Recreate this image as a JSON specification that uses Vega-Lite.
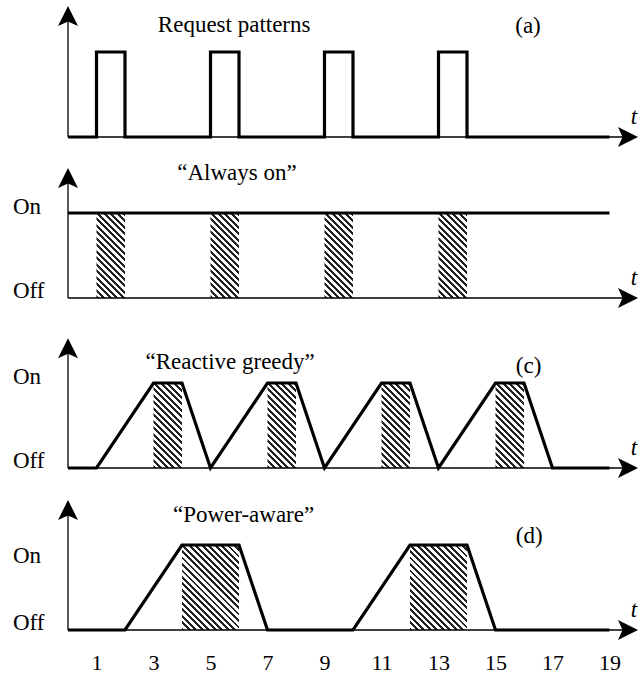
{
 "$schema": "https://vega.github.io/schema/vega-lite/v6.json",
 "padding": {"left": 12, "top": 6, "right": 2, "bottom": 2},
 "background": "white",
 "bounds": "flush",
 "spacing": 31,
 "config": {
  "view": {"stroke": null},
  "text": {"font": "Liberation Serif", "fontSize": 23, "color": "black"},
  "axis": {"labelFont": "Liberation Serif"}
 },
 "datasets": {
  "lines": [
   {"panel": "a", "i": 0, "x": 0, "y": 0}, {"panel": "a", "i": 1, "x": 1, "y": 0}, {"panel": "a", "i": 2, "x": 1, "y": 1}, {"panel": "a", "i": 3, "x": 2, "y": 1}, {"panel": "a", "i": 4, "x": 2, "y": 0},
   {"panel": "a", "i": 5, "x": 5, "y": 0}, {"panel": "a", "i": 6, "x": 5, "y": 1}, {"panel": "a", "i": 7, "x": 6, "y": 1}, {"panel": "a", "i": 8, "x": 6, "y": 0},
   {"panel": "a", "i": 9, "x": 9, "y": 0}, {"panel": "a", "i": 10, "x": 9, "y": 1}, {"panel": "a", "i": 11, "x": 10, "y": 1}, {"panel": "a", "i": 12, "x": 10, "y": 0},
   {"panel": "a", "i": 13, "x": 13, "y": 0}, {"panel": "a", "i": 14, "x": 13, "y": 1}, {"panel": "a", "i": 15, "x": 14, "y": 1}, {"panel": "a", "i": 16, "x": 14, "y": 0},
   {"panel": "a", "i": 17, "x": 19, "y": 0},
   {"panel": "b", "i": 0, "x": 0, "y": 1}, {"panel": "b", "i": 1, "x": 19, "y": 1},
   {"panel": "c", "i": 0, "x": 0, "y": 0}, {"panel": "c", "i": 1, "x": 1, "y": 0}, {"panel": "c", "i": 2, "x": 3, "y": 1}, {"panel": "c", "i": 3, "x": 4, "y": 1}, {"panel": "c", "i": 4, "x": 5, "y": 0},
   {"panel": "c", "i": 5, "x": 7, "y": 1}, {"panel": "c", "i": 6, "x": 8, "y": 1}, {"panel": "c", "i": 7, "x": 9, "y": 0},
   {"panel": "c", "i": 8, "x": 11, "y": 1}, {"panel": "c", "i": 9, "x": 12, "y": 1}, {"panel": "c", "i": 10, "x": 13, "y": 0},
   {"panel": "c", "i": 11, "x": 15, "y": 1}, {"panel": "c", "i": 12, "x": 16, "y": 1}, {"panel": "c", "i": 13, "x": 17, "y": 0}, {"panel": "c", "i": 14, "x": 19, "y": 0},
   {"panel": "d", "i": 0, "x": 0, "y": 0}, {"panel": "d", "i": 1, "x": 2, "y": 0}, {"panel": "d", "i": 2, "x": 4, "y": 1}, {"panel": "d", "i": 3, "x": 6, "y": 1}, {"panel": "d", "i": 4, "x": 7, "y": 0},
   {"panel": "d", "i": 5, "x": 10, "y": 0}, {"panel": "d", "i": 6, "x": 12, "y": 1}, {"panel": "d", "i": 7, "x": 14, "y": 1}, {"panel": "d", "i": 8, "x": 15, "y": 0}, {"panel": "d", "i": 9, "x": 19, "y": 0}
  ],
  "hatch": [
   {"panel": "b", "x": 1, "x2": 2, "y": 0, "y2": 1}, {"panel": "b", "x": 5, "x2": 6, "y": 0, "y2": 1}, {"panel": "b", "x": 9, "x2": 10, "y": 0, "y2": 1}, {"panel": "b", "x": 13, "x2": 14, "y": 0, "y2": 1},
   {"panel": "c", "x": 3, "x2": 4, "y": 0, "y2": 1}, {"panel": "c", "x": 7, "x2": 8, "y": 0, "y2": 1}, {"panel": "c", "x": 11, "x2": 12, "y": 0, "y2": 1}, {"panel": "c", "x": 15, "x2": 16, "y": 0, "y2": 1},
   {"panel": "d", "x": 4, "x2": 6, "y": 0, "y2": 1}, {"panel": "d", "x": 12, "x2": 14, "y": 0, "y2": 1}
  ],
  "axes": [
   {"panel": "a", "x": 0, "y": 0, "x2": 0, "y2": 1.5}, {"panel": "a", "x": 0, "y": 0, "x2": 19.6, "y2": 0},
   {"panel": "b", "x": 0, "y": 0, "x2": 0, "y2": 1.49}, {"panel": "b", "x": 0, "y": 0, "x2": 19.6, "y2": 0},
   {"panel": "c", "x": 0, "y": 0, "x2": 0, "y2": 1.49}, {"panel": "c", "x": 0, "y": 0, "x2": 19.6, "y2": 0},
   {"panel": "d", "x": 0, "y": 0, "x2": 0, "y2": 1.49}, {"panel": "d", "x": 0, "y": 0, "x2": 19.6, "y2": 0}
  ],
  "arrows": [
   {"panel": "a", "dir": "up", "x": 0, "y": 1.5412}, {"panel": "a", "dir": "right", "x": 20, "y": 0},
   {"panel": "b", "dir": "up", "x": 0, "y": 1.529}, {"panel": "b", "dir": "right", "x": 20, "y": 0},
   {"panel": "c", "dir": "up", "x": 0, "y": 1.526}, {"panel": "c", "dir": "right", "x": 20, "y": 0},
   {"panel": "d", "dir": "up", "x": 0, "y": 1.529}, {"panel": "d", "dir": "right", "x": 20, "y": 0}
  ],
  "texts": [
   {"panel": "a", "kind": "title", "x": 5.83, "y": 1.239, "text": "Request patterns"},
   {"panel": "a", "kind": "title", "x": 16.14, "y": 1.224, "text": "(a)"},
   {"panel": "a", "kind": "t", "x": 19.86, "y": 0.155, "text": "t"},
   {"panel": "b", "kind": "title", "x": 5.93, "y": 1.394, "text": "“Always on”"},
   {"panel": "b", "kind": "label", "x": -1.93, "y": 0.99, "text": "On"},
   {"panel": "b", "kind": "label", "x": -1.93, "y": 0, "text": "Off"},
   {"panel": "b", "kind": "t", "x": 19.86, "y": 0.155, "text": "t"},
   {"panel": "c", "kind": "title", "x": 5.69, "y": 1.161, "text": "“Reactive greedy”"},
   {"panel": "c", "kind": "title", "x": 16.16, "y": 1.118, "text": "(c)"},
   {"panel": "c", "kind": "label", "x": -1.93, "y": 0.99, "text": "On"},
   {"panel": "c", "kind": "label", "x": -1.93, "y": 0, "text": "Off"},
   {"panel": "c", "kind": "t", "x": 19.86, "y": 0.155, "text": "t"},
   {"panel": "d", "kind": "title", "x": 6.16, "y": 1.267, "text": "“Power-aware”"},
   {"panel": "d", "kind": "title", "x": 16.18, "y": 1.02, "text": "(d)"},
   {"panel": "d", "kind": "label", "x": -1.93, "y": 0.79, "text": "On"},
   {"panel": "d", "kind": "label", "x": -1.93, "y": 0, "text": "Off"},
   {"panel": "d", "kind": "t", "x": 19.86, "y": 0.155, "text": "t"}
  ]
 },
 "vconcat": [
  {
   "width": 570, "height": 131,
   "encoding": {
    "x": {"field": "x", "type": "quantitative", "scale": {"domain": [0, 20], "nice": false, "zero": false}, "axis": null},
    "y": {"field": "y", "type": "quantitative", "scale": {"domain": [0, 1.5412], "nice": false}, "axis": null}
   },
   "layer": [
    {"data": {"name": "axes"}, "transform": [{"filter": "datum.panel==='a'"}], "mark": {"type": "rule", "color": "black", "strokeWidth": 1.3}, "encoding": {"x2": {"field": "x2"}, "y2": {"field": "y2"}}},
    {"data": {"name": "arrows"}, "transform": [{"filter": "datum.panel==='a' && datum.dir==='up'"}], "mark": {"type": "point", "shape": "M0,0L1,2L0,1.55L-1,2Z", "size": 400, "filled": true, "color": "black", "opacity": 1, "strokeWidth": 0}, "encoding": {}},
    {"data": {"name": "arrows"}, "transform": [{"filter": "datum.panel==='a' && datum.dir==='right'"}], "mark": {"type": "point", "shape": "M0,0L-2,-1L-1.55,0L-2,1Z", "size": 400, "filled": true, "color": "black", "opacity": 1, "strokeWidth": 0}, "encoding": {}},
    {"data": {"name": "lines"}, "transform": [{"filter": "datum.panel==='a'"}], "mark": {"type": "line", "color": "black", "strokeWidth": 3.2, "strokeJoin": "miter", "strokeCap": "butt"}, "encoding": {"order": {"field": "i", "type": "quantitative"}}},
    {"data": {"name": "texts"}, "transform": [{"filter": "datum.panel==='a' && datum.kind==='title'"}], "mark": {"type": "text", "align": "center", "baseline": "alphabetic"}, "encoding": {"text": {"field": "text"}}},
    {"data": {"name": "texts"}, "transform": [{"filter": "datum.panel==='a' && datum.kind==='t'"}], "mark": {"type": "text", "align": "center", "baseline": "alphabetic", "fontStyle": "italic"}, "encoding": {"text": {"field": "text"}}}
   ]
  },
  {
   "width": 570, "height": 130,
   "encoding": {
    "x": {"field": "x", "type": "quantitative", "scale": {"domain": [0, 20], "nice": false, "zero": false}, "axis": null},
    "y": {"field": "y", "type": "quantitative", "scale": {"domain": [0, 1.5294], "nice": false}, "axis": null}
   },
   "layer": [
    {"data": {"name": "hatch"}, "transform": [{"filter": "datum.panel==='b'"}], "mark": {"type": "rect", "fill": {"gradient": "linear", "x1": 0, "y1": 1, "x2": 0.4025, "y2": -0.2004, "stops": [
     {"offset": 0, "color": "#222"}, {"offset": 0.0257, "color": "#222"}, {"offset": 0.0257, "color": "#fff"}, {"offset": 0.0571, "color": "#fff"},
     {"offset": 0.0571, "color": "#222"}, {"offset": 0.0828, "color": "#222"}, {"offset": 0.0828, "color": "#fff"}, {"offset": 0.1142, "color": "#fff"},
     {"offset": 0.1142, "color": "#222"}, {"offset": 0.1399, "color": "#222"}, {"offset": 0.1399, "color": "#fff"}, {"offset": 0.1713, "color": "#fff"},
     {"offset": 0.1713, "color": "#222"}, {"offset": 0.197, "color": "#222"}, {"offset": 0.197, "color": "#fff"}, {"offset": 0.2284, "color": "#fff"},
     {"offset": 0.2284, "color": "#222"}, {"offset": 0.2541, "color": "#222"}, {"offset": 0.2541, "color": "#fff"}, {"offset": 0.2855, "color": "#fff"},
     {"offset": 0.2855, "color": "#222"}, {"offset": 0.3112, "color": "#222"}, {"offset": 0.3112, "color": "#fff"}, {"offset": 0.3426, "color": "#fff"},
     {"offset": 0.3426, "color": "#222"}, {"offset": 0.3683, "color": "#222"}, {"offset": 0.3683, "color": "#fff"}, {"offset": 0.3997, "color": "#fff"},
     {"offset": 0.3997, "color": "#222"}, {"offset": 0.4254, "color": "#222"}, {"offset": 0.4254, "color": "#fff"}, {"offset": 0.4568, "color": "#fff"},
     {"offset": 0.4568, "color": "#222"}, {"offset": 0.4825, "color": "#222"}, {"offset": 0.4825, "color": "#fff"}, {"offset": 0.5139, "color": "#fff"},
     {"offset": 0.5139, "color": "#222"}, {"offset": 0.5396, "color": "#222"}, {"offset": 0.5396, "color": "#fff"}, {"offset": 0.571, "color": "#fff"},
     {"offset": 0.571, "color": "#222"}, {"offset": 0.5967, "color": "#222"}, {"offset": 0.5967, "color": "#fff"}, {"offset": 0.6281, "color": "#fff"},
     {"offset": 0.6281, "color": "#222"}, {"offset": 0.6538, "color": "#222"}, {"offset": 0.6538, "color": "#fff"}, {"offset": 0.6852, "color": "#fff"},
     {"offset": 0.6852, "color": "#222"}, {"offset": 0.7109, "color": "#222"}, {"offset": 0.7109, "color": "#fff"}, {"offset": 0.7423, "color": "#fff"},
     {"offset": 0.7423, "color": "#222"}, {"offset": 0.768, "color": "#222"}, {"offset": 0.768, "color": "#fff"}, {"offset": 0.7994, "color": "#fff"},
     {"offset": 0.7994, "color": "#222"}, {"offset": 0.8251, "color": "#222"}, {"offset": 0.8251, "color": "#fff"}, {"offset": 0.8565, "color": "#fff"},
     {"offset": 0.8565, "color": "#222"}, {"offset": 0.8822, "color": "#222"}, {"offset": 0.8822, "color": "#fff"}, {"offset": 0.9136, "color": "#fff"},
     {"offset": 0.9136, "color": "#222"}, {"offset": 0.9393, "color": "#222"}, {"offset": 0.9393, "color": "#fff"}, {"offset": 0.9707, "color": "#fff"},
     {"offset": 0.9707, "color": "#222"}, {"offset": 0.9964, "color": "#222"}, {"offset": 0.9964, "color": "#fff"}, {"offset": 1, "color": "#fff"}
    ]}}, "encoding": {"x2": {"field": "x2"}, "y2": {"field": "y2"}}},
    {"data": {"name": "axes"}, "transform": [{"filter": "datum.panel==='b'"}], "mark": {"type": "rule", "color": "black", "strokeWidth": 1.3}, "encoding": {"x2": {"field": "x2"}, "y2": {"field": "y2"}}},
    {"data": {"name": "arrows"}, "transform": [{"filter": "datum.panel==='b' && datum.dir==='up'"}], "mark": {"type": "point", "shape": "M0,0L1,2L0,1.55L-1,2Z", "size": 400, "filled": true, "color": "black", "opacity": 1, "strokeWidth": 0}, "encoding": {}},
    {"data": {"name": "arrows"}, "transform": [{"filter": "datum.panel==='b' && datum.dir==='right'"}], "mark": {"type": "point", "shape": "M0,0L-2,-1L-1.55,0L-2,1Z", "size": 400, "filled": true, "color": "black", "opacity": 1, "strokeWidth": 0}, "encoding": {}},
    {"data": {"name": "lines"}, "transform": [{"filter": "datum.panel==='b'"}], "mark": {"type": "line", "color": "black", "strokeWidth": 3.2, "strokeJoin": "miter", "strokeCap": "butt"}, "encoding": {"order": {"field": "i", "type": "quantitative"}}},
    {"data": {"name": "texts"}, "transform": [{"filter": "datum.panel==='b' && datum.kind==='title'"}], "mark": {"type": "text", "align": "center", "baseline": "alphabetic"}, "encoding": {"text": {"field": "text"}}},
    {"data": {"name": "texts"}, "transform": [{"filter": "datum.panel==='b' && datum.kind==='label'"}], "mark": {"type": "text", "align": "left", "baseline": "alphabetic"}, "encoding": {"text": {"field": "text"}}},
    {"data": {"name": "texts"}, "transform": [{"filter": "datum.panel==='b' && datum.kind==='t'"}], "mark": {"type": "text", "align": "center", "baseline": "alphabetic", "fontStyle": "italic"}, "encoding": {"text": {"field": "text"}}}
   ]
  },
  {
   "width": 570, "height": 139,
   "encoding": {
    "x": {"field": "x", "type": "quantitative", "scale": {"domain": [0, 20], "nice": false, "zero": false}, "axis": null},
    "y": {"field": "y", "type": "quantitative", "scale": {"domain": [0, 1.6353], "nice": false}, "axis": null}
   },
   "layer": [
    {"data": {"name": "hatch"}, "transform": [{"filter": "datum.panel==='c'"}], "mark": {"type": "rect", "fill": {"gradient": "linear", "x1": 0, "y1": 1, "x2": 0.4025, "y2": -0.2004, "stops": [
     {"offset": 0, "color": "#222"}, {"offset": 0.0257, "color": "#222"}, {"offset": 0.0257, "color": "#fff"}, {"offset": 0.0571, "color": "#fff"},
     {"offset": 0.0571, "color": "#222"}, {"offset": 0.0828, "color": "#222"}, {"offset": 0.0828, "color": "#fff"}, {"offset": 0.1142, "color": "#fff"},
     {"offset": 0.1142, "color": "#222"}, {"offset": 0.1399, "color": "#222"}, {"offset": 0.1399, "color": "#fff"}, {"offset": 0.1713, "color": "#fff"},
     {"offset": 0.1713, "color": "#222"}, {"offset": 0.197, "color": "#222"}, {"offset": 0.197, "color": "#fff"}, {"offset": 0.2284, "color": "#fff"},
     {"offset": 0.2284, "color": "#222"}, {"offset": 0.2541, "color": "#222"}, {"offset": 0.2541, "color": "#fff"}, {"offset": 0.2855, "color": "#fff"},
     {"offset": 0.2855, "color": "#222"}, {"offset": 0.3112, "color": "#222"}, {"offset": 0.3112, "color": "#fff"}, {"offset": 0.3426, "color": "#fff"},
     {"offset": 0.3426, "color": "#222"}, {"offset": 0.3683, "color": "#222"}, {"offset": 0.3683, "color": "#fff"}, {"offset": 0.3997, "color": "#fff"},
     {"offset": 0.3997, "color": "#222"}, {"offset": 0.4254, "color": "#222"}, {"offset": 0.4254, "color": "#fff"}, {"offset": 0.4568, "color": "#fff"},
     {"offset": 0.4568, "color": "#222"}, {"offset": 0.4825, "color": "#222"}, {"offset": 0.4825, "color": "#fff"}, {"offset": 0.5139, "color": "#fff"},
     {"offset": 0.5139, "color": "#222"}, {"offset": 0.5396, "color": "#222"}, {"offset": 0.5396, "color": "#fff"}, {"offset": 0.571, "color": "#fff"},
     {"offset": 0.571, "color": "#222"}, {"offset": 0.5967, "color": "#222"}, {"offset": 0.5967, "color": "#fff"}, {"offset": 0.6281, "color": "#fff"},
     {"offset": 0.6281, "color": "#222"}, {"offset": 0.6538, "color": "#222"}, {"offset": 0.6538, "color": "#fff"}, {"offset": 0.6852, "color": "#fff"},
     {"offset": 0.6852, "color": "#222"}, {"offset": 0.7109, "color": "#222"}, {"offset": 0.7109, "color": "#fff"}, {"offset": 0.7423, "color": "#fff"},
     {"offset": 0.7423, "color": "#222"}, {"offset": 0.768, "color": "#222"}, {"offset": 0.768, "color": "#fff"}, {"offset": 0.7994, "color": "#fff"},
     {"offset": 0.7994, "color": "#222"}, {"offset": 0.8251, "color": "#222"}, {"offset": 0.8251, "color": "#fff"}, {"offset": 0.8565, "color": "#fff"},
     {"offset": 0.8565, "color": "#222"}, {"offset": 0.8822, "color": "#222"}, {"offset": 0.8822, "color": "#fff"}, {"offset": 0.9136, "color": "#fff"},
     {"offset": 0.9136, "color": "#222"}, {"offset": 0.9393, "color": "#222"}, {"offset": 0.9393, "color": "#fff"}, {"offset": 0.9707, "color": "#fff"},
     {"offset": 0.9707, "color": "#222"}, {"offset": 0.9964, "color": "#222"}, {"offset": 0.9964, "color": "#fff"}, {"offset": 1, "color": "#fff"}
    ]}}, "encoding": {"x2": {"field": "x2"}, "y2": {"field": "y2"}}},
    {"data": {"name": "axes"}, "transform": [{"filter": "datum.panel==='c'"}], "mark": {"type": "rule", "color": "black", "strokeWidth": 1.3}, "encoding": {"x2": {"field": "x2"}, "y2": {"field": "y2"}}},
    {"data": {"name": "arrows"}, "transform": [{"filter": "datum.panel==='c' && datum.dir==='up'"}], "mark": {"type": "point", "shape": "M0,0L1,2L0,1.55L-1,2Z", "size": 400, "filled": true, "color": "black", "opacity": 1, "strokeWidth": 0}, "encoding": {}},
    {"data": {"name": "arrows"}, "transform": [{"filter": "datum.panel==='c' && datum.dir==='right'"}], "mark": {"type": "point", "shape": "M0,0L-2,-1L-1.55,0L-2,1Z", "size": 400, "filled": true, "color": "black", "opacity": 1, "strokeWidth": 0}, "encoding": {}},
    {"data": {"name": "lines"}, "transform": [{"filter": "datum.panel==='c'"}], "mark": {"type": "line", "color": "black", "strokeWidth": 3.2, "strokeJoin": "miter", "strokeCap": "butt"}, "encoding": {"order": {"field": "i", "type": "quantitative"}}},
    {"data": {"name": "texts"}, "transform": [{"filter": "datum.panel==='c' && datum.kind==='title'"}], "mark": {"type": "text", "align": "center", "baseline": "alphabetic"}, "encoding": {"text": {"field": "text"}}},
    {"data": {"name": "texts"}, "transform": [{"filter": "datum.panel==='c' && datum.kind==='label'"}], "mark": {"type": "text", "align": "left", "baseline": "alphabetic"}, "encoding": {"text": {"field": "text"}}},
    {"data": {"name": "texts"}, "transform": [{"filter": "datum.panel==='c' && datum.kind==='t'"}], "mark": {"type": "text", "align": "center", "baseline": "alphabetic", "fontStyle": "italic"}, "encoding": {"text": {"field": "text"}}}
   ]
  },
  {
   "width": 570, "height": 131,
   "encoding": {
    "x": {"field": "x", "type": "quantitative", "scale": {"domain": [0, 20], "nice": false, "zero": false},
          "axis": {"values": [1, 3, 5, 7, 9, 11, 13, 15, 17, 19], "domain": false, "ticks": false, "grid": false, "labelFontSize": 22, "labelPadding": 22, "labelColor": "black", "labelFont": "Liberation Serif", "labelFlush": false, "title": null}},
    "y": {"field": "y", "type": "quantitative", "scale": {"domain": [0, 1.5412], "nice": false}, "axis": null}
   },
   "layer": [
    {"data": {"name": "hatch"}, "transform": [{"filter": "datum.panel==='d'"}], "mark": {"type": "rect", "fill": {"gradient": "linear", "x1": 0, "y1": 1, "x2": 0.7728, "y2": -0.1524, "stops": [
     {"offset": 0, "color": "#222"}, {"offset": 0.0205, "color": "#222"}, {"offset": 0.0205, "color": "#fff"}, {"offset": 0.0455, "color": "#fff"},
     {"offset": 0.0455, "color": "#222"}, {"offset": 0.0659, "color": "#222"}, {"offset": 0.0659, "color": "#fff"}, {"offset": 0.0909, "color": "#fff"},
     {"offset": 0.0909, "color": "#222"}, {"offset": 0.1114, "color": "#222"}, {"offset": 0.1114, "color": "#fff"}, {"offset": 0.1364, "color": "#fff"},
     {"offset": 0.1364, "color": "#222"}, {"offset": 0.1568, "color": "#222"}, {"offset": 0.1568, "color": "#fff"}, {"offset": 0.1818, "color": "#fff"},
     {"offset": 0.1818, "color": "#222"}, {"offset": 0.2023, "color": "#222"}, {"offset": 0.2023, "color": "#fff"}, {"offset": 0.2273, "color": "#fff"},
     {"offset": 0.2273, "color": "#222"}, {"offset": 0.2477, "color": "#222"}, {"offset": 0.2477, "color": "#fff"}, {"offset": 0.2727, "color": "#fff"},
     {"offset": 0.2727, "color": "#222"}, {"offset": 0.2932, "color": "#222"}, {"offset": 0.2932, "color": "#fff"}, {"offset": 0.3182, "color": "#fff"},
     {"offset": 0.3182, "color": "#222"}, {"offset": 0.3386, "color": "#222"}, {"offset": 0.3386, "color": "#fff"}, {"offset": 0.3636, "color": "#fff"},
     {"offset": 0.3636, "color": "#222"}, {"offset": 0.3841, "color": "#222"}, {"offset": 0.3841, "color": "#fff"}, {"offset": 0.4091, "color": "#fff"},
     {"offset": 0.4091, "color": "#222"}, {"offset": 0.4295, "color": "#222"}, {"offset": 0.4295, "color": "#fff"}, {"offset": 0.4545, "color": "#fff"},
     {"offset": 0.4545, "color": "#222"}, {"offset": 0.475, "color": "#222"}, {"offset": 0.475, "color": "#fff"}, {"offset": 0.5, "color": "#fff"},
     {"offset": 0.5, "color": "#222"}, {"offset": 0.5205, "color": "#222"}, {"offset": 0.5205, "color": "#fff"}, {"offset": 0.5455, "color": "#fff"},
     {"offset": 0.5455, "color": "#222"}, {"offset": 0.5659, "color": "#222"}, {"offset": 0.5659, "color": "#fff"}, {"offset": 0.5909, "color": "#fff"},
     {"offset": 0.5909, "color": "#222"}, {"offset": 0.6114, "color": "#222"}, {"offset": 0.6114, "color": "#fff"}, {"offset": 0.6364, "color": "#fff"},
     {"offset": 0.6364, "color": "#222"}, {"offset": 0.6568, "color": "#222"}, {"offset": 0.6568, "color": "#fff"}, {"offset": 0.6818, "color": "#fff"},
     {"offset": 0.6818, "color": "#222"}, {"offset": 0.7023, "color": "#222"}, {"offset": 0.7023, "color": "#fff"}, {"offset": 0.7273, "color": "#fff"},
     {"offset": 0.7273, "color": "#222"}, {"offset": 0.7477, "color": "#222"}, {"offset": 0.7477, "color": "#fff"}, {"offset": 0.7727, "color": "#fff"},
     {"offset": 0.7727, "color": "#222"}, {"offset": 0.7932, "color": "#222"}, {"offset": 0.7932, "color": "#fff"}, {"offset": 0.8182, "color": "#fff"},
     {"offset": 0.8182, "color": "#222"}, {"offset": 0.8386, "color": "#222"}, {"offset": 0.8386, "color": "#fff"}, {"offset": 0.8636, "color": "#fff"},
     {"offset": 0.8636, "color": "#222"}, {"offset": 0.8841, "color": "#222"}, {"offset": 0.8841, "color": "#fff"}, {"offset": 0.9091, "color": "#fff"},
     {"offset": 0.9091, "color": "#222"}, {"offset": 0.9295, "color": "#222"}, {"offset": 0.9295, "color": "#fff"}, {"offset": 0.9545, "color": "#fff"},
     {"offset": 0.9545, "color": "#222"}, {"offset": 0.975, "color": "#222"}, {"offset": 0.975, "color": "#fff"}, {"offset": 1, "color": "#fff"}
    ]}}, "encoding": {"x2": {"field": "x2"}, "y2": {"field": "y2"}}},
    {"data": {"name": "axes"}, "transform": [{"filter": "datum.panel==='d'"}], "mark": {"type": "rule", "color": "black", "strokeWidth": 1.3}, "encoding": {"x2": {"field": "x2"}, "y2": {"field": "y2"}}},
    {"data": {"name": "arrows"}, "transform": [{"filter": "datum.panel==='d' && datum.dir==='up'"}], "mark": {"type": "point", "shape": "M0,0L1,2L0,1.55L-1,2Z", "size": 400, "filled": true, "color": "black", "opacity": 1, "strokeWidth": 0}, "encoding": {}},
    {"data": {"name": "arrows"}, "transform": [{"filter": "datum.panel==='d' && datum.dir==='right'"}], "mark": {"type": "point", "shape": "M0,0L-2,-1L-1.55,0L-2,1Z", "size": 400, "filled": true, "color": "black", "opacity": 1, "strokeWidth": 0}, "encoding": {}},
    {"data": {"name": "lines"}, "transform": [{"filter": "datum.panel==='d'"}], "mark": {"type": "line", "color": "black", "strokeWidth": 3.2, "strokeJoin": "miter", "strokeCap": "butt"}, "encoding": {"order": {"field": "i", "type": "quantitative"}}},
    {"data": {"name": "texts"}, "transform": [{"filter": "datum.panel==='d' && datum.kind==='title'"}], "mark": {"type": "text", "align": "center", "baseline": "alphabetic"}, "encoding": {"text": {"field": "text"}}},
    {"data": {"name": "texts"}, "transform": [{"filter": "datum.panel==='d' && datum.kind==='label'"}], "mark": {"type": "text", "align": "left", "baseline": "alphabetic"}, "encoding": {"text": {"field": "text"}}},
    {"data": {"name": "texts"}, "transform": [{"filter": "datum.panel==='d' && datum.kind==='t'"}], "mark": {"type": "text", "align": "center", "baseline": "alphabetic", "fontStyle": "italic"}, "encoding": {"text": {"field": "text"}}}
   ]
  }
 ]
}
